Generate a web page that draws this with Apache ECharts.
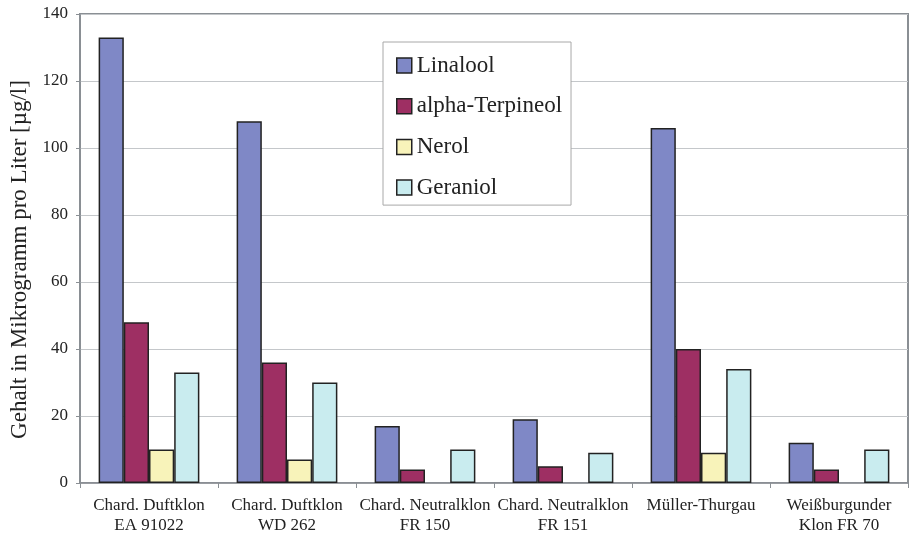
<!DOCTYPE html>
<html>
<head>
<meta charset="utf-8">
<script src="https://cdn.jsdelivr.net/npm/echarts@6/dist/echarts.min.js"></script>
<style>
html,body{margin:0;padding:0;background:#fff;}
#chart{width:917px;height:538px;}
</style>
</head>
<body>
<div id="chart"></div>
<script>
var categories = ["Chard. Duftklon\nEA 91022", "Chard. Duftklon\nWD 262", "Chard. Neutralklon\nFR 150", "Chard. Neutralklon\nFR 151", "Müller-Thurgau", "Weißburgunder\nKlon FR 70"];
var linalool = [133, 108, 17, 19, 106, 12];
var alphaTerpineol = [48, 36, 4, 5, 40, 4];
var nerol = [10, 7, null, null, 9, null];
var geraniol = [33, 30, 10, 9, 34, 10];
var seriesNames = ["Linalool", "alpha-Terpineol", "Nerol", "Geraniol"];
var seriesColors = ["#7f88c6", "#9e2f63", "#f8f3ba", "#c9ecef"];
var yTicks = [0, 20, 40, 60, 80, 100, 120, 140];

var font = "'Liberation Serif', 'Times New Roman', serif";
var dataSets = [linalool, alphaTerpineol, nerol, geraniol];
var chart = echarts.init(document.getElementById('chart'), null, {renderer: 'canvas'});
chart.setOption({
  animation: false,
  backgroundColor: '#fff',
  textStyle: {fontFamily: font},
  grid: {left: 80, right: 9, top: 14, bottom: 55, show: true, borderColor: '#8a8f94', borderWidth: 2, backgroundColor: 'transparent', containLabel: false, outerBoundsMode: 'none'},
  legend: {
    orient: 'vertical',
    left: 383, top: 42,
    padding: [12, 9, 6, 13],
    itemGap: 17.7,
    itemWidth: 15, itemHeight: 15,
    backgroundColor: '#fff',
    borderColor: '#a8a8a8', borderWidth: 1,
    icon: 'rect',
    itemStyle: {borderColor: '#222', borderWidth: 1.5},
    textStyle: {fontFamily: font, fontSize: 23, color: '#222', lineHeight: 22},
    data: seriesNames
  },
  xAxis: {
    type: 'category',
    data: categories,
    boundaryGap: true,
    axisLine: {lineStyle: {color: '#8a8f94', width: 1.5}},
    axisTick: {show: true, length: 5, alignWithLabel: false, lineStyle: {color: '#8a8f94'}},
    axisLabel: {fontFamily: font, fontSize: 17, color: '#222', lineHeight: 20, margin: 13, interval: 0}
  },
  yAxis: {
    type: 'value',
    min: yTicks[0], max: yTicks[yTicks.length - 1], interval: 20,
    name: 'Gehalt in Mikrogramm pro Liter [µg/l]',
    nameLocation: 'middle',
    nameGap: 44,
    nameRotate: 90,
    nameTextStyle: {fontFamily: font, fontSize: 23, color: '#222', padding: [0, 22, 0, 0]},
    axisLine: {show: true, lineStyle: {color: '#8a8f94', width: 1.5}},
    axisTick: {show: true, length: 4, lineStyle: {color: '#8a8f94'}},
    axisLabel: {fontFamily: font, fontSize: 17, color: '#222', margin: 12},
    splitLine: {show: true, lineStyle: {color: '#c4c7ca', width: 1.2}}
  },
  series: seriesNames.map(function (n, i) {
    return {
      name: n,
      type: 'bar',
      data: dataSets[i],
      barGap: '0%',
      barCategoryGap: '27%',
      itemStyle: {color: seriesColors[i], borderColor: '#222', borderWidth: 1.5}
    };
  })
});
</script>
</body>
</html>
